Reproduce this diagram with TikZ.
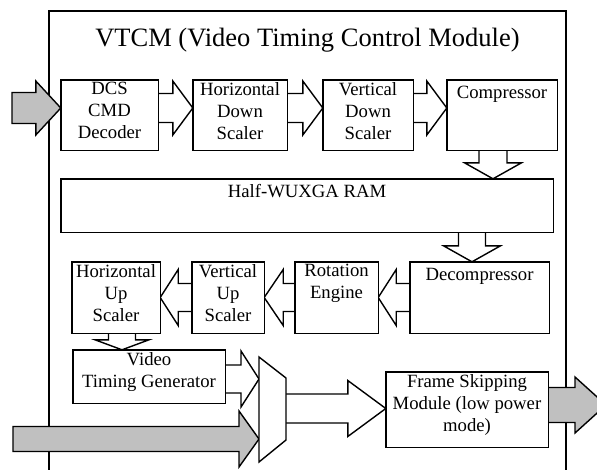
\documentclass[tikz,border=0pt]{standalone}
\usepackage{fontspec}
\setmainfont{Liberation Serif}
\usetikzlibrary{calc}
\definecolor{arrgray}{RGB}{192,192,192}
\newcommand\harr[7]{%
  \draw[#1] ($(#2)+(0,#4)$) -- ($(#3)+({-(#6)},#4)$) -- ($(#3)+({-(#6)},#5)$) -- (#3)
    -- ($(#3)+({-(#6)},{-(#5)})$) -- ($(#3)+({-(#6)},{-(#4)})$) -- ($(#2)+(0,{-(#4)})$) #7;}
\newcommand\varr[7]{%
  \draw[#1] ($(#2)+(#4,0)$) -- ($(#3)+(#4,{-(#6)})$) -- ($(#3)+(#5,{-(#6)})$) -- (#3)
    -- ($(#3)+({-(#5)},{-(#6)})$) -- ($(#3)+({-(#4)},{-(#6)})$) -- ($(#2)+({-(#4)},0)$) #7;}
\begin{document}
\begin{tikzpicture}[x=1pt,y=-1pt,
  lw/.style={line width=1.4pt, line join=miter},
  box/.style={lw, draw, fill=white, inner sep=0pt},
  txt/.style={inner sep=0pt, align=center, anchor=north,
    font=\fontsize{18.7}{22}\selectfont, execute at begin node=\strut},
  hollow/.style={lw, draw, fill=white},
  grayarr/.style={lw, draw, fill=arrgray}]
\useasboundingbox (0,0) rectangle (597,469);
\clip (0,0) rectangle (597,469);
% outer module
\node[lw, draw, inner sep=0pt, minimum width=517pt, minimum height=479pt] (vtcm) at (307.5,250.5) {};
\node[font=\fontsize{26.5}{30}\selectfont, anchor=base, inner sep=0pt] (title) at (307.5,46) {VTCM (Video Timing Control Module)};
% box placeholders (for anchors)
\path
  (109.5,115) node[inner sep=0pt, minimum width=97pt, minimum height=70pt] (dcs) {}
  (240,115)   node[inner sep=0pt, minimum width=94pt, minimum height=70pt] (hds) {}
  (368,115)   node[inner sep=0pt, minimum width=90pt, minimum height=70pt] (vds) {}
  (502,115)   node[inner sep=0pt, minimum width=110pt, minimum height=70pt] (comp) {}
  (307,205.5) node[inner sep=0pt, minimum width=492pt, minimum height=53pt] (ram) {}
  (116,297.5) node[inner sep=0pt, minimum width=88pt, minimum height=71pt] (hus) {}
  (228,297.5) node[inner sep=0pt, minimum width=72pt, minimum height=71pt] (vus) {}
  (336.5,297.5) node[inner sep=0pt, minimum width=83pt, minimum height=71pt] (rot) {}
  (479.5,297.5) node[inner sep=0pt, minimum width=139pt, minimum height=71pt] (dec) {}
  (149,376.5) node[inner sep=0pt, minimum width=152pt, minimum height=53pt] (vtg) {}
  (467,409.5) node[inner sep=0pt, minimum width=162pt, minimum height=75pt] (fs) {};
\coordinate (m1) at (259,357);
\coordinate (m2) at (286,378);
\coordinate (m3) at (286,440);
\coordinate (m4) at (259,462);
% arrow end points
\coordinate (in1s) at (12,108);
\coordinate (in1t) at ([yshift=7pt]dcs.west);
\coordinate (a2s) at ([yshift=7pt]dcs.east);
\coordinate (a2t) at ([yshift=7pt]hds.west);
\coordinate (a3s) at ([yshift=7pt]hds.east);
\coordinate (a3t) at ([yshift=7pt]vds.west);
\coordinate (a4s) at ([yshift=7pt]vds.east);
\coordinate (a4t) at ([yshift=7pt]comp.west);
\coordinate (a5s) at ([xshift=-9pt]comp.south);
\coordinate (a5t) at (a5s |- ram.north);
\coordinate (a6t) at ([xshift=-7.5pt]dec.north);
\coordinate (a6s) at (a6t |- ram.south);
\coordinate (a10s) at ([xshift=6pt]hus.south);
\coordinate (a10t) at (a10s |- vtg.north);
\coordinate (a11s) at ([yshift=-2.5pt]vtg.east);
\coordinate (a11t) at (m1 |- a11s);
\coordinate (in2s) at (13,439);
\coordinate (in2t) at (m1 |- in2s);
\coordinate (a13s) at ([yshift=1pt]m2 |- fs.west);
\coordinate (a13t) at ([yshift=1pt]fs.west);
\coordinate (outs) at ([yshift=4.5pt]fs.east);
\coordinate (outt) at (606,405);
% block arrows
\harr{grayarr}{in1s}{in1t}{15.5}{27}{25}{-- cycle}
\harr{hollow}{a2s}{a2t}{14.5}{27}{20}{}
\harr{hollow}{a3s}{a3t}{14.5}{27}{20}{}
\harr{hollow}{a4s}{a4t}{14.5}{27}{20}{}
\varr{hollow}{a5s}{a5t}{14}{28.5}{16}{}
\varr{hollow}{a6s}{a6t}{13.5}{28.5}{16}{}
\harr{hollow}{dec.west}{rot.east}{14}{28}{-18}{}
\harr{hollow}{rot.west}{vus.east}{14}{28}{-19}{}
\harr{hollow}{vus.west}{hus.east}{14}{28}{-18}{}
\varr{hollow}{a10s}{a10t}{13.5}{27}{10}{}
\harr{hollow}{a11s}{a11t}{14}{28}{18}{}
\harr{grayarr}{in2s}{in2t}{12.5}{28}{20}{-- cycle}
\harr{hollow}{a13s}{a13t}{14.5}{28}{38}{}
\harr{grayarr}{outs}{outt}{17.5}{28}{31}{-- cycle}
% boxes
\foreach \b in {dcs,hds,vds,comp,ram,hus,vus,rot,dec,vtg,fs}
  \draw[box] (\b.north west) rectangle (\b.south east);
\draw[box] (m1) -- (m2) -- (m3) -- (m4) -- cycle;
% texts
\node[txt] (dcs-t)  at ([yshift=-2.6pt]dcs.north)  {DCS\\CMD\\Decoder};
\node[txt] (hds-t)  at ([yshift=-2.6pt]hds.north)  {Horizontal\\Down\\Scaler};
\node[txt] (vds-t)  at ([yshift=-2.6pt]vds.north)  {Vertical\\Down\\Scaler};
\node[txt] (comp-t) at ([yshift=-2.6pt]comp.north) {Compressor};
\node[txt] (ram-t)  at ([yshift=-2.6pt]ram.north)  {Half-WUXGA RAM};
\node[txt] (hus-t)  at ([yshift=-2.6pt]hus.north)  {Horizontal\\Up\\Scaler};
\node[txt] (vus-t)  at ([yshift=-2.6pt]vus.north)  {Vertical\\Up\\Scaler};
\node[txt] (rot-t)  at ([yshift=-2.6pt]rot.north)  {Rotation\\Engine};
\node[txt] (dec-t)  at ([yshift=-2.6pt]dec.north)  {Decompressor};
\node[txt] (vtg-t)  at ([yshift=-2.6pt]vtg.north)  {Video\\Timing Generator};
\node[txt] (fs-t)   at ([yshift=-2.6pt]fs.north)   {Frame Skipping\\Module (low power\\mode)};
\end{tikzpicture}
\end{document}
